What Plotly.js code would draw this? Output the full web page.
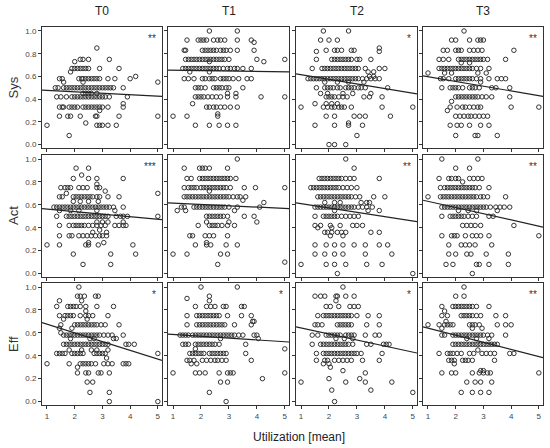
<!DOCTYPE html>
<html>
<head>
<meta charset="utf-8">
<script src="https://cdn.plot.ly/plotly-3.0.1.min.js"></script>
<style>
  body { margin: 0; background: #fff; }
  #plot { width: 550px; height: 448px; }
</style>
</head>
<body>
<div id="plot"></div>
<script>
// Labels
const timeLabels = ['T0', 'T1', 'T2', 'T3'];
const rowLabels = ['Sys', 'Act', 'Eff'];
const xTickVals = [1, 2, 3, 4, 5];
const yTickVals = [0, 0.2, 0.4, 0.6, 0.8, 1.0];
const yTickText = ['0.0', '0.2', '0.4', '0.6', '0.8', '1.0'];

// significance stars per panel (row by row)
const stars = ['**', '', '*', '**', '***', '', '**', '**', '*', '*', '*', '**'];

// regression line values at the left and right edge of each panel
const fitLeft  = [0.48, 0.655, 0.623, 0.605, 0.567, 0.617, 0.617, 0.64, 0.69, 0.588, 0.652, 0.652];
const fitRight = [0.424, 0.64, 0.447, 0.424, 0.47, 0.567, 0.453, 0.406, 0.36, 0.52, 0.424, 0.383];

// Points, grouped by y value: [y, [x values]]
const sysT0 = [
  [0.85, [2.8]],
  [0.75, [2.2, 2.3, 2.5, 3.25]],
  [0.73, [2.0]],
  [0.67, [1.9, 2.0, 2.1, 2.2, 2.3, 2.4, 2.5, 2.9, 3.6]],
  [0.64, [1.85]],
  [0.6, [4.2]],
  [0.58, [1.45, 1.55, 2.15, 2.25, 2.3, 2.4, 2.5, 2.6, 2.7, 2.8, 2.9, 3.2, 3.45, 4.0]],
  [0.55, [1.6, 2.3, 5.0]],
  [0.5, [1.3, 1.4, 1.6, 1.7, 1.8, 1.9, 2.0, 2.1, 2.2, 2.3, 2.4, 2.5, 2.6, 2.7, 2.8, 2.9, 3.0, 3.1, 3.2, 3.3, 3.4, 3.75]],
  [0.45, [2.3, 2.4, 2.5, 2.6, 2.8]],
  [0.42, [1.35, 1.5, 1.7, 1.9, 2.0, 2.1, 2.2, 2.3, 2.4, 2.5, 2.6, 2.7, 2.8, 2.9, 3.0, 3.1, 3.25, 3.9]],
  [0.36, [3.75]],
  [0.33, [1.45, 1.55, 1.6, 1.8, 1.9, 2.0, 2.1, 2.3, 2.4, 2.5, 2.6, 2.7, 2.8, 2.9, 3.0, 3.2, 3.75]],
  [0.3, [2.9]],
  [0.25, [1.45, 1.75, 1.85, 2.2, 2.75, 2.8, 3.6, 5.0]],
  [0.19, [2.4]],
  [0.17, [1.0, 2.8, 2.9, 3.0, 3.2, 3.5]],
  [0.08, [1.8]]
];

const sysT1 = [
  [1.0, [2.3, 3.3]],
  [0.92, [1.5, 1.9, 2.0, 2.1, 2.2, 2.45, 2.6, 2.7, 2.85, 3.3, 3.8]],
  [0.9, [3.9]],
  [0.83, [1.4, 1.45, 2.05, 2.15, 2.25, 2.35, 2.45, 2.55, 2.7, 2.8, 2.9, 3.05, 3.3, 3.9]],
  [0.75, [1.45, 1.55, 1.65, 1.75, 1.85, 1.95, 2.05, 2.15, 2.25, 2.35, 2.45, 2.55, 2.65, 2.75, 2.85, 3.0, 4.0, 5.0]],
  [0.73, [2.3, 4.25]],
  [0.67, [1.35, 1.45, 1.55, 1.65, 1.75, 1.85, 1.95, 2.05, 2.15, 2.25, 2.35, 2.45, 2.55, 2.65, 2.8, 2.95, 3.05, 3.2, 3.3, 3.5, 3.8]],
  [0.64, [1.6, 2.3]],
  [0.58, [1.4, 1.55, 1.75, 2.05, 2.15, 2.3, 2.4, 2.5, 2.7, 2.8, 2.9, 3.0, 3.15, 3.35, 3.65, 3.8]],
  [0.5, [1.8, 1.9, 2.0, 2.15, 2.45, 2.55, 2.65, 2.75, 2.9, 3.0, 3.5]],
  [0.45, [2.95, 3.25]],
  [0.42, [1.8, 1.9, 2.0, 2.1, 2.25, 2.4, 2.55, 2.7, 2.95, 3.25, 4.15, 5.0]],
  [0.36, [1.7]],
  [0.33, [2.2, 2.3, 2.45, 2.55, 2.7, 2.85, 3.05, 3.3]],
  [0.27, [2.6]],
  [0.25, [1.0, 1.5, 2.6]],
  [0.17, [1.8, 2.3, 2.65, 2.95, 3.25]]
];

const sysT2 = [
  [1.0, [1.8, 2.7]],
  [0.92, [1.7, 2.0, 2.3]],
  [0.85, [3.8]],
  [0.82, [1.55, 3.8]],
  [0.83, [1.9, 2.2, 2.3, 2.45, 2.8, 2.9]],
  [0.75, [1.55, 2.1, 2.2, 2.3, 2.4, 2.5, 2.6, 2.7, 2.8, 3.0, 3.1, 3.5]],
  [0.67, [1.4, 1.75, 1.85, 1.95, 2.05, 2.15, 2.25, 2.35, 2.45, 2.55, 2.65, 2.75, 2.85, 2.95, 3.05, 3.3, 3.8, 4.0]],
  [0.64, [3.4, 3.6]],
  [0.6, [3.45, 3.6]],
  [0.58, [1.25, 1.35, 1.45, 1.55, 1.65, 1.75, 1.85, 1.95, 2.05, 2.15, 2.25, 2.35, 2.45, 2.55, 2.65, 2.75, 2.85, 2.95, 3.05, 3.2, 3.35, 3.5, 3.65, 3.8]],
  [0.55, [1.85, 2.3, 2.7, 3.25]],
  [0.5, [1.55, 1.85, 1.95, 2.05, 2.15, 2.3, 2.4, 2.6, 2.7, 2.8, 2.9, 3.05, 3.15, 3.3, 4.1]],
  [0.45, [1.7, 1.95, 2.5, 2.85, 3.5]],
  [0.42, [1.9, 2.0, 2.1, 2.2, 2.35, 2.5, 2.65, 3.25, 3.45, 3.9]],
  [0.36, [1.5, 1.9, 2.1, 2.3]],
  [0.33, [1.0, 1.8, 1.95, 2.1, 2.2, 2.35, 2.45, 2.55, 2.8, 3.9, 5.0]],
  [0.25, [1.9, 2.2, 2.9, 3.1, 3.3, 4.2]],
  [0.19, [2.7]],
  [0.17, [1.5, 2.2, 2.7, 3.2]],
  [0.08, [3.0]],
  [0.0, [2.0, 2.2, 2.6]]
];

const sysT3 = [
  [1.0, [2.3]],
  [0.92, [1.85, 2.0, 2.5, 2.8, 2.9, 3.0]],
  [0.83, [1.55, 1.7, 2.0, 2.1, 2.2, 2.5, 2.65, 2.8, 2.95, 4.1]],
  [0.75, [1.4, 1.55, 1.75, 2.1, 2.2, 2.3, 2.4, 2.5, 2.6, 2.7, 2.8, 2.9, 3.0, 3.15, 3.8]],
  [0.72, [2.2, 2.5]],
  [0.67, [1.4, 1.5, 1.6, 1.7, 1.8, 1.9, 2.0, 2.1, 2.2, 2.3, 2.4, 2.5, 2.6, 2.75, 2.9, 3.2]],
  [0.63, [1.0, 1.6, 1.85, 2.8, 3.1]],
  [0.58, [1.45, 1.55, 1.75, 2.0, 2.1, 2.2, 2.3, 2.4, 2.5, 2.6, 2.75, 2.9, 3.2, 3.5, 3.65, 3.8]],
  [0.55, [2.9]],
  [0.5, [1.5, 1.8, 1.9, 2.0, 2.1, 2.25, 2.5, 2.6, 2.7, 2.85, 3.3, 3.45, 3.95]],
  [0.42, [2.0, 2.1, 2.2, 2.3, 2.4, 2.5, 2.6, 2.7, 2.8, 2.95, 3.1, 3.3, 3.95]],
  [0.38, [1.85]],
  [0.33, [1.8, 2.05, 2.25, 2.35, 2.5, 2.65, 2.8, 2.9, 4.0, 5.0]],
  [0.3, [1.7]],
  [0.25, [2.0, 2.15, 2.3, 2.45, 2.55, 2.7, 2.85, 3.0, 3.15]],
  [0.17, [1.8, 2.05, 2.2, 2.5, 2.9, 3.2]],
  [0.08, [2.0, 2.7, 2.8, 3.5]]
];

const actT0 = [
  [0.92, [2.05, 2.5]],
  [0.86, [2.25]],
  [0.83, [1.95, 2.5, 2.8, 3.75]],
  [0.78, [2.8]],
  [0.75, [1.5, 1.65, 1.75, 1.85, 2.15, 2.3, 2.45, 2.8, 2.9]],
  [0.72, [3.1]],
  [0.7, [1.7, 5.0]],
  [0.67, [1.45, 1.55, 1.95, 2.05, 2.15, 2.25, 2.35, 2.45, 2.55, 2.65, 2.8, 2.9, 3.2, 3.6]],
  [0.63, [1.95, 2.2, 2.5, 2.85]],
  [0.58, [1.25, 1.35, 1.45, 1.55, 1.65, 1.75, 1.85, 1.95, 2.05, 2.15, 2.25, 2.35, 2.45, 2.55, 2.65, 2.75, 2.85, 2.95, 3.05, 3.15, 3.25, 3.4, 3.75]],
  [0.55, [1.45, 1.85, 2.15, 2.8, 3.45]],
  [0.5, [1.35, 1.7, 1.8, 1.9, 2.0, 2.1, 2.2, 2.3, 2.4, 2.5, 2.6, 2.7, 2.8, 2.9, 3.0, 3.1, 3.2, 3.5, 3.65, 3.75, 3.9, 5.0]],
  [0.45, [2.8, 3.0, 3.2, 3.75]],
  [0.42, [1.45, 1.8, 1.95, 2.05, 2.15, 2.25, 2.35, 2.5, 2.65, 2.8, 2.95, 3.1, 3.45, 3.6, 3.75, 3.85]],
  [0.38, [2.9]],
  [0.36, [2.65, 3.15]],
  [0.33, [1.45, 1.8, 1.9, 2.15, 2.3, 2.45, 2.6, 2.75, 2.9, 3.0, 3.15]],
  [0.27, [2.5, 3.05]],
  [0.25, [1.0, 1.45, 2.4, 2.5, 2.85, 4.1]],
  [0.17, [1.95, 3.3, 4.2]],
  [0.08, [2.3, 3.3]]
];

const actT1 = [
  [1.0, [3.3]],
  [0.92, [1.4, 1.95, 2.05, 2.15, 2.3, 2.95]],
  [0.83, [1.5, 1.65, 1.95, 2.05, 2.15, 2.25, 2.35, 2.45, 2.55, 2.65, 2.75, 2.85, 2.95, 3.05, 3.25]],
  [0.75, [1.4, 1.55, 1.65, 1.75, 1.85, 2.0, 2.1, 2.2, 2.3, 2.4, 2.5, 2.6, 2.7, 2.8, 2.9, 3.05, 3.55, 3.95, 5.0]],
  [0.72, [2.3]],
  [0.67, [1.4, 1.5, 1.6, 1.7, 1.8, 1.9, 2.0, 2.1, 2.2, 2.3, 2.4, 2.5, 2.6, 2.7, 2.8, 2.9, 3.0, 3.15, 3.3, 3.4, 3.6]],
  [0.64, [3.5]],
  [0.62, [4.25]],
  [0.58, [1.3, 1.4, 1.75, 1.85, 1.95, 2.05, 2.15, 2.25, 2.35, 2.45, 2.55, 2.65, 2.75, 2.85, 3.0, 3.3, 4.1]],
  [0.55, [1.15, 1.45, 3.2]],
  [0.5, [2.2, 2.3, 2.4, 2.5, 2.6, 2.7, 2.8, 2.95, 3.55, 3.9]],
  [0.45, [2.2, 3.0, 4.0]],
  [0.42, [1.9, 2.3, 2.4, 2.5, 2.6, 2.75, 2.95, 3.2]],
  [0.33, [1.6, 1.7, 2.15, 2.3, 2.45, 2.95]],
  [0.27, [2.2]],
  [0.25, [1.8, 2.2, 2.35, 2.9, 3.3]],
  [0.17, [1.0, 1.5, 2.7, 2.95]],
  [0.1, [5.0]],
  [0.08, [2.6]]
];

const actT2 = [
  [1.0, [2.6]],
  [0.92, [2.9]],
  [0.83, [1.65, 1.75, 1.85, 1.95, 2.05, 2.15, 2.25, 2.35, 2.45, 2.6, 2.75, 2.9, 3.8]],
  [0.75, [1.35, 1.45, 1.55, 1.65, 1.75, 1.85, 1.95, 2.05, 2.15, 2.25, 2.35, 2.5, 2.65, 2.8, 3.0]],
  [0.67, [1.6, 1.7, 1.8, 1.9, 2.0, 2.1, 2.2, 2.3, 2.4, 2.5, 2.6, 2.7, 2.8, 2.95, 3.1, 3.6, 4.0]],
  [0.62, [1.85, 2.2, 2.4, 3.15, 3.35, 3.45]],
  [0.58, [1.5, 1.6, 1.7, 1.8, 1.9, 2.0, 2.1, 2.2, 2.3, 2.4, 2.5, 2.6, 2.7, 2.8, 2.9, 3.05, 3.2, 3.35, 3.55]],
  [0.55, [2.2, 3.4, 3.8]],
  [0.5, [1.5, 1.8, 1.9, 2.0, 2.1, 2.2, 2.3, 2.45, 2.6, 2.75, 2.9, 3.05]],
  [0.42, [1.5, 1.7, 2.05, 2.4, 2.85, 3.0, 3.2]],
  [0.4, [1.6, 2.1]],
  [0.36, [1.85, 1.95, 2.1, 2.3, 2.45, 2.6, 3.5, 3.8]],
  [0.33, [2.05, 2.5]],
  [0.25, [1.5, 1.9, 2.2, 2.5, 2.9, 3.3, 3.8, 4.1]],
  [0.17, [1.5, 1.85, 2.2, 2.5, 3.3, 4.25]],
  [0.08, [1.0, 1.9, 2.2, 2.6, 3.35, 3.9]],
  [0.0, [2.3, 5.0]]
];

const actT3 = [
  [1.0, [1.5, 2.8]],
  [0.92, [2.0, 2.5]],
  [0.83, [1.4, 1.75, 1.85, 2.0, 2.1, 2.5, 2.65, 2.8, 2.95]],
  [0.8, [2.25]],
  [0.75, [1.45, 1.6, 1.7, 1.8, 1.9, 2.0, 2.1, 2.2, 2.3, 2.4, 2.5, 2.6, 2.7, 2.85, 3.2]],
  [0.67, [1.0, 1.45, 1.55, 1.65, 1.75, 1.85, 1.95, 2.05, 2.15, 2.25, 2.35, 2.45, 2.55, 2.65, 2.75, 2.9, 3.0, 3.15, 3.8]],
  [0.58, [1.5, 1.6, 1.7, 1.8, 1.9, 2.0, 2.1, 2.2, 2.3, 2.4, 2.5, 2.6, 2.7, 2.8, 2.9, 3.0, 3.1, 3.25, 3.45, 3.6, 3.75, 3.95]],
  [0.55, [2.1, 2.45, 2.75, 3.5]],
  [0.5, [1.5, 1.8, 1.9, 2.0, 2.1, 2.2, 2.3, 2.45, 2.6, 2.75, 3.2, 3.35]],
  [0.42, [2.25, 2.4, 2.55, 2.7, 2.9, 4.1]],
  [0.33, [1.5, 1.85, 1.95, 2.05, 2.35, 2.6, 2.75, 2.9, 3.2, 5.0]],
  [0.25, [1.75, 2.2, 2.35, 2.5, 2.7, 3.3]],
  [0.17, [1.75, 2.0, 2.4, 2.55, 3.1, 3.9]],
  [0.08, [1.65, 1.9, 2.75, 2.85, 3.2, 3.9]],
  [0.0, [2.6]]
];

const effT0 = [
  [1.0, [2.15]],
  [0.92, [2.1, 2.2, 2.35, 2.75, 2.85]],
  [0.88, [1.45, 2.25]],
  [0.83, [1.35, 1.75, 1.85, 1.95, 2.05, 2.2, 2.4, 2.8, 3.4]],
  [0.79, [2.4]],
  [0.75, [1.45, 1.65, 1.75, 1.85, 1.95, 2.2, 2.4, 2.5, 2.65, 3.2]],
  [0.72, [1.6, 2.45]],
  [0.67, [1.5, 2.0, 2.1, 2.2, 2.3, 2.4, 2.5, 2.6, 2.7, 2.8, 2.95, 3.1, 3.6]],
  [0.64, [1.45, 1.9]],
  [0.6, [1.5]],
  [0.58, [1.6, 1.7, 1.8, 1.9, 2.0, 2.1, 2.2, 2.3, 2.4, 2.5, 2.6, 2.7, 2.8, 2.9, 3.05, 3.2, 3.35, 3.75]],
  [0.55, [1.85, 2.55, 2.7, 3.4, 3.5]],
  [0.5, [1.6, 1.7, 1.8, 1.9, 2.0, 2.1, 2.2, 2.3, 2.4, 2.5, 2.6, 2.7, 2.8, 2.9, 3.0, 3.1, 3.2, 3.85, 3.95, 4.15]],
  [0.45, [1.8, 2.25, 2.6, 2.8, 3.2]],
  [0.42, [1.35, 1.45, 1.55, 1.65, 1.9, 2.0, 2.1, 2.2, 2.3, 2.7, 2.8, 2.9, 3.0, 3.1, 5.0]],
  [0.38, [3.15]],
  [0.33, [1.0, 1.8, 2.2, 2.3, 2.4, 2.5, 2.6, 2.75, 3.05, 3.2, 3.35, 3.75, 3.85, 3.95]],
  [0.3, [2.1]],
  [0.25, [2.1, 2.4, 2.5, 2.85, 2.95, 3.25]],
  [0.17, [2.45, 2.65]],
  [0.08, [2.55, 3.25]],
  [0.0, [3.25, 5.0]]
];

const effT1 = [
  [1.0, [2.0, 3.3]],
  [0.92, [2.3]],
  [0.9, [1.5]],
  [0.88, [2.3]],
  [0.83, [1.8, 2.2, 2.35, 2.5, 2.8, 2.9, 3.45, 3.55]],
  [0.75, [1.5, 1.85, 1.95, 2.05, 2.15, 2.25, 2.35, 2.45, 2.55, 2.65, 2.95, 3.45, 3.8]],
  [0.7, [3.85, 3.9]],
  [0.67, [1.5, 1.85, 1.95, 2.05, 2.15, 2.25, 2.35, 2.45, 2.55, 2.65, 2.75, 2.85, 3.2, 3.8]],
  [0.58, [1.25, 1.35, 1.45, 1.55, 1.7, 1.8, 1.9, 2.0, 2.1, 2.2, 2.3, 2.4, 2.5, 2.6, 2.7, 2.8, 2.9, 3.0, 3.1, 3.2, 3.35, 3.5, 3.9, 4.0]],
  [0.55, [2.7, 4.05]],
  [0.5, [1.35, 1.45, 1.55, 1.8, 1.9, 2.0, 2.1, 2.2, 2.3, 2.4, 2.5, 2.65, 3.6]],
  [0.46, [1.8, 5.0]],
  [0.42, [1.6, 1.7, 1.8, 1.9, 2.0, 2.1, 2.3, 2.4, 2.5, 2.6, 2.7, 2.8, 2.9, 3.6]],
  [0.36, [1.5, 1.6, 1.75, 2.05, 2.2, 2.35, 2.5, 2.6, 2.75, 2.9, 3.8]],
  [0.33, [1.65, 1.85]],
  [0.25, [1.0, 1.8, 1.95, 2.15, 2.65, 2.95, 3.05, 3.15, 5.0]],
  [0.2, [4.2]],
  [0.17, [2.7, 2.95]],
  [0.08, [2.3]],
  [0.0, [2.9]]
];

const effT2 = [
  [1.0, [2.5]],
  [0.92, [1.5, 1.7, 1.85, 2.25, 2.3, 2.6, 2.9]],
  [0.88, [2.25]],
  [0.83, [1.9, 2.05, 2.35, 2.75, 2.9, 3.05]],
  [0.75, [1.6, 1.8, 1.9, 2.0, 2.1, 2.2, 2.3, 2.4, 2.5, 2.6, 2.7, 2.8, 3.0, 3.4, 3.8]],
  [0.67, [1.5, 1.6, 1.75, 2.3, 2.4, 2.5, 2.6, 2.7, 2.8, 3.35, 3.8]],
  [0.58, [1.4, 1.6, 1.9, 2.0, 2.1, 2.2, 2.3, 2.4, 2.6, 2.7, 2.8, 2.9, 3.3, 3.65, 3.8]],
  [0.55, [2.25, 2.55, 2.85]],
  [0.5, [1.4, 1.7, 1.8, 1.9, 2.0, 2.1, 2.2, 2.3, 2.4, 2.5, 2.6, 2.7, 2.85, 3.35, 3.5, 3.95, 4.05, 4.15]],
  [0.42, [1.55, 1.8, 1.9, 2.0, 2.1, 2.2, 2.3, 2.4, 2.5, 2.6, 2.7, 2.8, 2.9, 3.0, 3.15, 3.9]],
  [0.36, [1.55, 1.85, 1.95, 2.2, 2.35, 2.5, 2.65, 2.8, 3.2, 3.8]],
  [0.33, [1.8, 2.0]],
  [0.3, [2.05]],
  [0.27, [2.5]],
  [0.25, [3.3]],
  [0.2, [2.0, 3.1]],
  [0.17, [1.0, 2.6, 3.3, 4.25]],
  [0.1, [2.1, 3.5]],
  [0.08, [5.0]],
  [0.0, [2.2]]
];

const effT3 = [
  [1.0, [2.3]],
  [0.92, [2.0, 2.3]],
  [0.83, [1.5, 1.9, 2.0, 2.1, 2.2, 2.3, 2.4, 2.5, 2.6, 2.75, 3.2]],
  [0.79, [1.6]],
  [0.75, [1.5, 1.7, 2.2, 2.3, 2.4, 2.5, 2.6, 2.75, 2.9, 3.45, 3.8]],
  [0.7, [1.65]],
  [0.67, [1.0, 1.4, 1.6, 1.7, 1.8, 1.9, 2.5, 2.6, 2.7, 2.85, 3.5, 3.8, 4.0]],
  [0.64, [1.5, 2.6, 2.95]],
  [0.58, [1.5, 1.6, 1.9, 2.0, 2.1, 2.2, 2.3, 2.4, 2.5, 2.6, 2.7, 2.8, 2.9, 3.0, 3.15, 3.3, 3.8]],
  [0.55, [2.4, 2.75, 3.2]],
  [0.5, [1.9, 2.0, 2.1, 2.2, 2.3, 2.4, 2.5, 2.6, 2.7, 2.8, 2.9, 3.0, 3.1, 3.2, 3.3, 3.4, 3.5]],
  [0.45, [2.8]],
  [0.42, [1.4, 1.7, 1.8, 1.9, 2.05, 2.2, 2.5, 2.65, 2.95, 3.1, 3.25, 3.4, 3.95, 4.1]],
  [0.36, [1.75, 1.85, 1.95, 2.25, 2.35, 2.45, 2.6, 3.4]],
  [0.33, [1.95]],
  [0.27, [2.9, 3.0]],
  [0.25, [1.5, 1.85, 2.0, 2.6, 2.85, 3.0, 3.15, 3.25, 5.0]],
  [0.17, [2.4, 2.7, 2.9, 3.3]],
  [0.08, [2.2, 2.6, 2.9, 3.2]]
];

const panels = [sysT0, sysT1, sysT2, sysT3, actT0, actT1, actT2, actT3, effT0, effT1, effT2, effT3];

// panel boxes in pixels (550 x 448 figure)
const W = 550, H = 448;
const colPx = [[42, 162], [168, 289], [296, 417], [423, 543]];
const rowPx = [[27, 148], [155, 277], [283, 405]];
const xRange = [0.82, 5.15];
const yRange = [-0.03, 1.035];

const ink = '#333333';
const font = {family: 'Liberation Sans, Arial, sans-serif', color: '#444444', size: 8};

function expand(rows) {
    const x = [], y = [];
    rows.forEach(([yv, xs]) => xs.forEach(xv => { x.push(xv); y.push(yv); }));
    return {x, y};
}

const traces = [];
const layout = {
    width: W, height: H,
    margin: {l: 0, r: 0, t: 0, b: 0},
    paper_bgcolor: '#fff',
    plot_bgcolor: '#fff',
    showlegend: false,
    font: font,
    annotations: []
};

panels.forEach((rows, i) => {
    const r = Math.floor(i / 4), c = i % 4;
    const id = i === 0 ? '' : String(i + 1);
    const pts = expand(rows);

    traces.push({
        x: pts.x, y: pts.y,
        xaxis: 'x' + id, yaxis: 'y' + id,
        mode: 'markers', type: 'scatter',
        marker: {symbol: 'circle-open', size: 4.5, color: '#333', line: {width: 1}},
        hoverinfo: 'skip'
    });
    traces.push({
        x: xRange, y: [fitLeft[i], fitRight[i]],
        xaxis: 'x' + id, yaxis: 'y' + id,
        mode: 'lines', type: 'scatter',
        line: {color: '#222', width: 1.2},
        hoverinfo: 'skip'
    });

    layout['xaxis' + id] = {
        domain: [colPx[c][0] / W, colPx[c][1] / W],
        anchor: 'y' + id,
        range: xRange,
        tickvals: xTickVals,
        showticklabels: r === 2,
        ticks: 'outside', ticklen: 3, tickcolor: ink, tickwidth: 1,
        showline: true, mirror: true, linecolor: ink, linewidth: 1,
        showgrid: false, zeroline: false,
        tickfont: font
    };
    layout['yaxis' + id] = {
        domain: [1 - rowPx[r][1] / H, 1 - rowPx[r][0] / H],
        anchor: 'x' + id,
        range: yRange,
        tickvals: yTickVals,
        ticktext: yTickText,
        showticklabels: c === 0,
        ticks: 'outside', ticklen: 3, tickcolor: ink, tickwidth: 1,
        showline: true, mirror: true, linecolor: ink, linewidth: 1,
        showgrid: false, zeroline: false,
        tickfont: font
    };

    if (stars[i]) {
        layout.annotations.push({
            text: stars[i], showarrow: false,
            xref: 'x' + id + ' domain', yref: 'y' + id + ' domain',
            x: 0.97, y: 0.97, xanchor: 'right', yanchor: 'top',
            font: {family: font.family, size: 10, color: '#333'}
        });
    }
});

// column titles
timeLabels.forEach((t, c) => {
    layout.annotations.push({
        text: t, showarrow: false, xref: 'paper', yref: 'paper',
        x: (colPx[c][0] + colPx[c][1]) / 2 / W, y: 1 - 11 / H,
        xanchor: 'center', yanchor: 'middle',
        font: {family: font.family, size: 12, color: '#222'}
    });
});

// row titles
rowLabels.forEach((t, r) => {
    layout.annotations.push({
        text: t, showarrow: false, xref: 'paper', yref: 'paper',
        x: 13 / W, y: 1 - (rowPx[r][0] + rowPx[r][1]) / 2 / H,
        xanchor: 'center', yanchor: 'middle', textangle: -90,
        font: {family: font.family, size: 13, color: '#333'}
    });
});

// x axis title
layout.annotations.push({
    text: 'Utilization [mean]', showarrow: false, xref: 'paper', yref: 'paper',
    x: 299 / W, y: 1 - 437 / H, xanchor: 'center', yanchor: 'middle',
    font: {family: font.family, size: 12, color: '#222'}
});

Plotly.newPlot('plot', traces, layout, {staticPlot: true, displayModeBar: false});
</script>
</body>
</html>
